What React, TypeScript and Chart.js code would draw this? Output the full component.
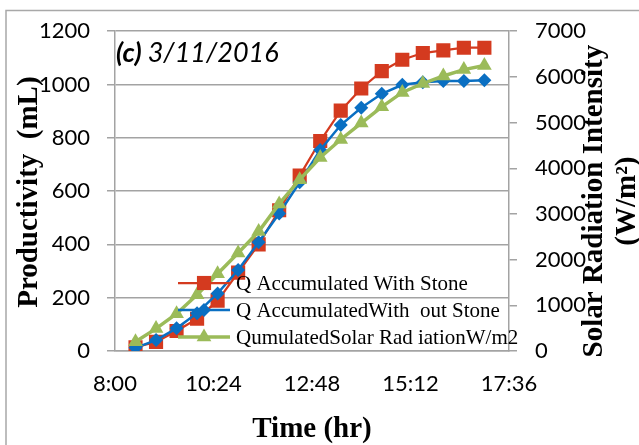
import React, { useEffect, useRef } from "react";
import { Chart, registerables } from "chart.js";

Chart.register(...registerables);

// Sampling times (half-hourly readings)
const times = [
  "8:30", "9:00", "9:30", "10:00", "10:30", "11:00", "11:30", "12:00", "12:30",
  "13:00", "13:30", "14:00", "14:30", "15:00", "15:30", "16:00", "16:30", "17:00",
];

// Accumulated productivity (mL)
const withStone = [14, 34, 75, 121, 189, 294, 400, 528, 658, 788, 902, 985, 1050, 1093, 1118, 1128, 1138, 1138];
const withoutStone = [12, 41, 85, 142, 216, 304, 408, 516, 633, 754, 848, 913, 965, 999, 1008, 1013, 1013, 1016];

// Accumulated solar radiation (W/m²)
const solarCumulative = [201, 490, 815, 1231, 1692, 2145, 2614, 3220, 3750, 4235, 4630, 4990, 5345, 5660, 5855, 6020, 6160, 6250];

// Axis ranges (minutes since midnight for time)
const timeMin = 480; // 8:00
const timeMax = 1056; // 17:36
const timeStep = 144; // 2:24
const leftMax = 1200;
const leftStep = 200;
const rightMax = 7000;
const rightStep = 1000;

const seriesLabels = [
  "Q Accumulated With Stone",
  "Q AccumulatedWith  out Stone",
  "QumulatedSolar Rad iationW/m2",
];

const RED = "#D43A1F";
const BLUE = "#0A6FC2";
const GREEN = "#9BBB59";
const GRID = "#a3a3a3";

const SANS = "Lato, 'DejaVu Sans', sans-serif";
const SERIF = "'Liberation Serif', 'Times New Roman', serif";

const toMinutes = (t: string) => {
  const [h, m] = t.split(":").map(Number);
  return h * 60 + m;
};

const fmtTime = (v: number) => {
  const h = Math.floor(v / 60);
  const m = Math.round(v - h * 60);
  return `${h}:${m < 10 ? "0" + m : m}`;
};

function drawMarker(ctx: CanvasRenderingContext2D, style: string, x: number, y: number, r: number, color: string) {
  ctx.save();
  ctx.fillStyle = color;
  ctx.beginPath();
  if (style === "rect") {
    const s = Math.SQRT1_2 * r;
    ctx.rect(x - s, y - s, 2 * s, 2 * s);
  } else if (style === "rectRot") {
    ctx.moveTo(x, y - r);
    ctx.lineTo(x + r, y);
    ctx.lineTo(x, y + r);
    ctx.lineTo(x - r, y);
    ctx.closePath();
  } else {
    ctx.moveTo(x, y - r);
    ctx.lineTo(x + r * Math.sin((2 * Math.PI) / 3), y + r / 2);
    ctx.lineTo(x - r * Math.sin((2 * Math.PI) / 3), y + r / 2);
    ctx.closePath();
  }
  ctx.fill();
  ctx.restore();
}

const decorations = {
  id: "decorations",
  beforeDraw(chart: any) {
    const { ctx, width, height } = chart;
    ctx.save();
    ctx.fillStyle = "#ffffff";
    ctx.fillRect(0, 0, width, height);
    ctx.strokeStyle = "#a8a8a8";
    ctx.lineWidth = 1.5;
    ctx.strokeRect(6, 10.5, width + 20, height + 20);
    ctx.restore();
  },
  afterDatasetsDraw(chart: any) {
    const { ctx, chartArea: ca } = chart;
    // legend inside the plot area
    const styles = ["rect", "rectRot", "triangle"];
    const colors = [RED, BLUE, GREEN];
    const radii = [10, 7, 8.5];
    const widths = [2.25, 2.5, 3.5];
    const rows = [ca.bottom - 68, ca.bottom - 41, ca.bottom - 14];
    ctx.save();
    ctx.font = `21px ${SERIF}`;
    ctx.textAlign = "left";
    ctx.textBaseline = "middle";
    rows.forEach((y: number, i: number) => {
      ctx.strokeStyle = colors[i];
      ctx.lineWidth = widths[i];
      ctx.beginPath();
      ctx.moveTo(ca.left + 63, y);
      ctx.lineTo(ca.left + 115, y);
      ctx.stroke();
      drawMarker(ctx, styles[i], ca.left + 89, y, radii[i], colors[i]);
      ctx.fillStyle = "#000";
      ctx.fillText(seriesLabels[i], ca.left + 121, y + 1);
    });
    ctx.restore();
  },
  afterDraw(chart: any) {
    const { ctx, chartArea: ca } = chart;
    ctx.save();
    ctx.fillStyle = "#000";

    // panel tag and date
    ctx.textBaseline = "alphabetic";
    ctx.textAlign = "left";
    ctx.font = `italic bold 27px ${SANS}`;
    const tag = "(c)";
    ctx.fillText(tag, ca.left + 1, ca.top + 31);
    const tagW = ctx.measureText(tag + " ").width;
    ctx.font = `italic 27px ${SANS}`;
    ctx.fillText("3/11/2016", ca.left + 1 + tagW, ca.top + 31);

    // left axis title
    ctx.font = `bold 29px ${SERIF}`;
    ctx.textAlign = "center";
    ctx.textBaseline = "middle";
    ctx.save();
    ctx.translate(ca.left - 85, (ca.top + ca.bottom) / 2 + 1);
    ctx.rotate(-Math.PI / 2);
    ctx.fillText("Productivity  (mL)", 0, 0);
    ctx.restore();

    // right axis title (two lines)
    ctx.save();
    ctx.translate(ca.right + 86, (ca.top + ca.bottom) / 2 + 10);
    ctx.rotate(-Math.PI / 2);
    ctx.fillText("Solar Radiation Intensity", 0, 0);
    ctx.fillText("(W/m²)", 0, 33);
    ctx.restore();

    // x axis title
    ctx.textBaseline = "alphabetic";
    ctx.fillText("Time (hr)", (ca.left + ca.right) / 2, ca.bottom + 86);
    ctx.restore();
  },
};

export default function App() {
  const canvasRef = useRef<HTMLCanvasElement | null>(null);

  useEffect(() => {
    if (!canvasRef.current) return;
    const xs = times.map(toMinutes);
    const pts = (vals: number[]) => vals.map((v, i) => ({ x: xs[i], y: v }));

    const chart = new Chart(canvasRef.current, {
      type: "line",
      data: {
        datasets: [
          {
            label: seriesLabels[0],
            data: pts(withStone),
            yAxisID: "y",
            borderColor: RED,
            backgroundColor: RED,
            borderWidth: 2.25,
            pointStyle: "rect",
            pointRadius: 10,
            pointBorderWidth: 0,
            pointBackgroundColor: RED,
            order: 3,
          },
          {
            label: seriesLabels[1],
            data: pts(withoutStone),
            yAxisID: "y",
            borderColor: BLUE,
            backgroundColor: BLUE,
            borderWidth: 2.5,
            pointStyle: "rectRot",
            pointRadius: 7,
            pointBorderWidth: 0,
            pointBackgroundColor: BLUE,
            order: 2,
          },
          {
            label: seriesLabels[2],
            data: pts(solarCumulative),
            yAxisID: "y1",
            borderColor: GREEN,
            backgroundColor: GREEN,
            borderWidth: 3.5,
            pointStyle: "triangle",
            pointRadius: 8.5,
            pointBorderWidth: 0,
            pointBackgroundColor: GREEN,
            order: 1,
          },
        ],
      },
      options: {
        responsive: false,
        devicePixelRatio: 1,
        animation: false,
        layout: { padding: { top: 27, left: 0, right: 0, bottom: 0 } },
        plugins: {
          legend: { display: false },
          tooltip: { enabled: false },
        },
        elements: { line: { tension: 0 } },
        scales: {
          x: {
            type: "linear",
            min: timeMin,
            max: timeMax,
            grid: { display: false, drawTicks: false },
            border: { display: true, color: GRID, width: 1.5 },
            afterBuildTicks: (scale: any) => {
              const t = [];
              for (let v = timeMin; v <= timeMax; v += timeStep) t.push({ value: v });
              scale.ticks = t;
            },
            ticks: {
              autoSkip: false,
              maxRotation: 0,
              padding: 20,
              color: "#000",
              font: { family: SANS, size: 22 },
              callback: (v: any) => fmtTime(Number(v)),
            },
            afterFit: (scale: any) => {
              scale.height = 94;
            },
          },
          y: {
            position: "left",
            min: 0,
            max: leftMax,
            ticks: {
              stepSize: leftStep,
              padding: 17,
              color: "#000",
              font: { family: SANS, size: 22 },
              callback: (v: any) => String(v),
            },
            grid: { color: GRID, lineWidth: 1.5, tickLength: 8, drawTicks: true },
            border: { display: true, color: GRID, width: 1.5 },
            afterFit: (scale: any) => {
              scale.width = 115;
            },
          },
          y1: {
            position: "right",
            min: 0,
            max: rightMax,
            ticks: {
              stepSize: rightStep,
              padding: 18,
              color: "#000",
              font: { family: SANS, size: 22 },
              callback: (v: any) => String(v),
            },
            grid: { drawOnChartArea: false, color: GRID, lineWidth: 1.5, tickLength: 8, drawTicks: true },
            border: { display: true, color: GRID, width: 1.5 },
            afterFit: (scale: any) => {
              scale.width = 130;
            },
          },
        },
      },
      plugins: [decorations],
    } as any);

    return () => chart.destroy();
  }, []);

  return (
    <div style={{ position: "fixed", left: 0, top: 0, width: 639, height: 445, background: "#fff" }}>
      <canvas ref={canvasRef} width={639} height={445} style={{ display: "block" }} />
    </div>
  );
}
